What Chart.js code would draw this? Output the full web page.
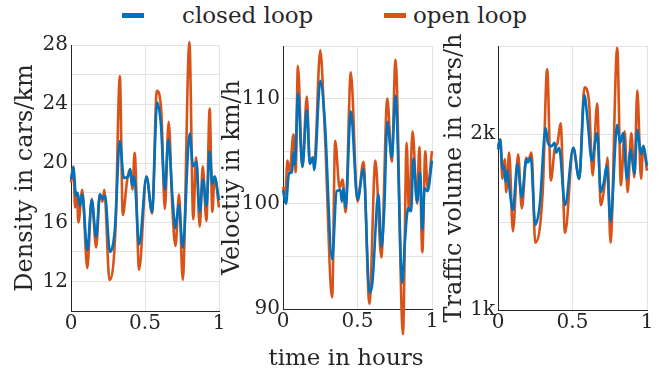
<!DOCTYPE html>
<html>
<head>
<meta charset="utf-8">
<script src="https://cdn.jsdelivr.net/npm/chart.js@4/dist/chart.umd.min.js"></script>
<style>
    body { margin: 0; background: #fff; overflow: hidden; width: 667px; height: 372px; position: relative; font-family: 'DejaVu Serif', serif; color: #262626; }
    .panel { position: absolute; }
    .swatch { position: absolute; height: 5px; width: 22px; top: 13px; }
    .txt { position: absolute; font-size: 23px; line-height: 23px; white-space: nowrap; }
</style>
</head>
<body>
<div class="swatch" style="left:122px; background:#0072BD"></div>
<div class="txt" style="left:182px; top:4px">closed loop</div>
<div class="swatch" style="left:384px; background:#D95319"></div>
<div class="txt" style="left:413px; top:4px">open loop</div>

<div class="panel" style="left:0px; top:30px; width:231px; height:321px"><canvas id="densityChart"></canvas></div>
<div class="panel" style="left:210px; top:31px; width:234px; height:318px"><canvas id="velocityChart"></canvas></div>
<div class="panel" style="left:425px; top:31px; width:234px; height:319px"><canvas id="volumeChart"></canvas></div>

<div class="txt" style="left:246px; top:346px; width:200px; text-align:center">time in hours</div>

<script>
// time axis ticks (hours)
const timeTicks = [0, 0.5, 1];

// Density in cars/km
const densClosedT = [0, 0.016, 0.034, 0.045, 0.06, 0.076, 0.11, 0.14, 0.17, 0.195, 0.213, 0.23, 0.263, 0.297, 0.33, 0.357, 0.386, 0.4, 0.413, 0.427, 0.46, 0.51, 0.548, 0.582, 0.607, 0.634, 0.658, 0.685, 0.706, 0.728, 0.755, 0.802, 0.825, 0.847, 0.87, 0.892, 0.915, 0.937, 0.955, 0.97, 1.0];
const densClosed = [18.9, 19.7, 17.8, 18.0, 17.1, 17.9, 14.1, 17.5, 15.0, 17.9, 17.6, 17.8, 14.0, 15.6, 21.5, 19.0, 19.1, 19.6, 18.5, 19.1, 14.5, 19.1, 16.7, 24.1, 22.7, 18.2, 21.6, 17.8, 15.6, 17.2, 14.3, 22.0, 19.8, 20.1, 16.7, 18.9, 17.1, 20.8, 18.6, 19.1, 17.5];
const densOpenT = [0, 0.016, 0.028, 0.04, 0.05, 0.076, 0.11, 0.14, 0.17, 0.195, 0.213, 0.225, 0.26, 0.3, 0.33, 0.35, 0.38, 0.4, 0.415, 0.43, 0.46, 0.51, 0.548, 0.58, 0.61, 0.634, 0.66, 0.685, 0.706, 0.73, 0.755, 0.8, 0.826, 0.845, 0.87, 0.89, 0.915, 0.937, 0.955, 0.97, 1.0];
const densOpen = [18.7, 19.8, 17.0, 18.0, 16.0, 18.2, 12.9, 17.6, 14.3, 17.9, 17.4, 18.2, 12.1, 15.4, 25.9, 16.5, 18.9, 19.6, 18.2, 20.7, 12.8, 19.1, 16.6, 24.9, 23.5, 16.9, 22.8, 16.9, 14.4, 17.9, 12.1, 28.2, 16.2, 20.4, 15.7, 19.8, 16.1, 23.7, 16.7, 19.1, 17.0];

// Velocity in km/h
const velClosedT = [0, 0.02, 0.04, 0.06, 0.07, 0.08, 0.1, 0.13, 0.16, 0.18, 0.2, 0.21, 0.25, 0.28, 0.33, 0.36, 0.385, 0.395, 0.405, 0.42, 0.455, 0.5, 0.54, 0.58, 0.6, 0.64, 0.66, 0.68, 0.7, 0.73, 0.755, 0.8, 0.82, 0.84, 0.86, 0.875, 0.9, 0.92, 0.935, 0.95, 0.97, 1.0];
const velClosed = [101.3, 100.0, 102.9, 103.0, 104.9, 103.7, 110.5, 103.5, 108.9, 103.8, 104.4, 103.2, 111.7, 108.0, 94.7, 101.2, 101.3, 100.2, 101.5, 99.6, 108.8, 100.4, 103.3, 91.6, 92.5, 100.9, 95.9, 99.6, 107.8, 104.4, 110.3, 92.5, 96.8, 99.6, 99.3, 104.3, 100.2, 103.0, 97.5, 101.5, 101.2, 104.1];
const velOpenT = [0, 0.015, 0.03, 0.045, 0.07, 0.085, 0.1, 0.13, 0.16, 0.18, 0.2, 0.21, 0.25, 0.28, 0.33, 0.35, 0.38, 0.4, 0.42, 0.455, 0.5, 0.54, 0.58, 0.62, 0.66, 0.7, 0.73, 0.755, 0.805, 0.83, 0.845, 0.87, 0.9, 0.915, 0.935, 0.955, 0.97, 1.0];
const velOpen = [101.6, 100.9, 104.1, 103.0, 106.6, 103.0, 113.1, 103.5, 110.2, 103.8, 104.4, 103.9, 114.6, 107.1, 91.1, 106.0, 101.5, 102.3, 99.2, 112.5, 100.2, 104.0, 90.5, 104.1, 94.9, 110.0, 104.0, 113.7, 87.6, 105.8, 99.3, 106.9, 100.0, 105.4, 95.4, 105.0, 101.5, 105.0];

// Traffic volume in cars/h
const volClosedT = [0, 0.015, 0.03, 0.04, 0.05, 0.065, 0.075, 0.1, 0.13, 0.16, 0.19, 0.2, 0.22, 0.25, 0.28, 0.32, 0.335, 0.36, 0.38, 0.39, 0.41, 0.45, 0.505, 0.545, 0.58, 0.6, 0.63, 0.665, 0.69, 0.71, 0.73, 0.755, 0.8, 0.82, 0.84, 0.865, 0.89, 0.915, 0.935, 0.96, 0.975, 1.0];
const volClosed = [1912, 1968, 1801, 1819, 1726, 1791, 1708, 1568, 1829, 1642, 1857, 1838, 1866, 1484, 1596, 2034, 1950, 1931, 1950, 1894, 1922, 1596, 1922, 1745, 2220, 2089, 1847, 2006, 1670, 1726, 1819, 1503, 2052, 1950, 2006, 1745, 1912, 1773, 2024, 1885, 1931, 1819];
const volOpenT = [0, 0.015, 0.03, 0.045, 0.055, 0.075, 0.1, 0.135, 0.16, 0.19, 0.2, 0.225, 0.25, 0.3, 0.33, 0.355, 0.38, 0.4, 0.42, 0.45, 0.505, 0.545, 0.58, 0.61, 0.635, 0.665, 0.69, 0.72, 0.735, 0.755, 0.8, 0.825, 0.85, 0.87, 0.895, 0.915, 0.935, 0.96, 0.975, 1.0];
const volOpen = [1931, 1968, 1745, 1857, 1670, 1894, 1447, 1885, 1577, 1866, 1847, 1894, 1382, 1670, 2369, 1736, 1912, 1950, 2061, 1438, 1922, 1745, 2266, 2192, 1764, 2173, 1596, 1745, 1866, 1382, 2490, 1708, 2015, 1670, 2006, 1754, 2248, 1745, 1931, 1791];

const BLUE = '#0072BD';
const ORANGE = '#D95319';
const AXIS = '#262626';
const GRID = '#e3e3e3';

function toPoints(t, v) {
    return t.map((x, i) => ({ x: x, y: v[i] }));
}

function makePanel(id, cfg) {
    const ctx = document.getElementById(id).getContext('2d');
    return new Chart(ctx, {
        type: 'line',
        data: {
            datasets: [
                // closed loop first so it is drawn on top
                { label: 'closed loop', data: toPoints(cfg.closedT, cfg.closed), borderColor: BLUE, borderWidth: 2.6, pointRadius: 0, cubicInterpolationMode: 'monotone', clip: false },
                { label: 'open loop', data: toPoints(cfg.openT, cfg.open), borderColor: ORANGE, borderWidth: 2.6, pointRadius: 0, cubicInterpolationMode: 'monotone', clip: false }
            ]
        },
        options: {
            responsive: true,
            maintainAspectRatio: false,
            animation: false,
            layout: { autoPadding: false, padding: { top: 10, right: 12, left: 0, bottom: 0 } },
            plugins: { legend: { display: false }, tooltip: { enabled: false } },
            scales: {
                x: {
                    type: 'linear', min: 0, max: 1,
                    afterBuildTicks: (s) => { s.ticks = timeTicks.map(v => ({ value: v })); },
                    afterFit: (s) => { s.height = 40; },
                    grid: { color: GRID, drawTicks: false },
                    border: { color: AXIS, width: 1 },
                    ticks: { color: AXIS, padding: 1, maxRotation: 0, font: { family: 'DejaVu Serif', size: 20 }, callback: (v) => String(v) }
                },
                y: {
                    min: cfg.min, max: cfg.max,
                    ticks: { stepSize: cfg.step, color: AXIS, padding: 3, font: { family: 'DejaVu Serif', size: 20 }, callback: cfg.label },
                    afterFit: (s) => { s.width = cfg.yw; },
                    grid: { color: GRID, drawTicks: false },
                    border: { color: AXIS, width: 1 },
                    title: { display: true, text: cfg.title, color: AXIS, padding: { top: cfg.tpad, bottom: 0 }, font: { family: 'DejaVu Serif', size: 24, lineHeight: 1 } }
                }
            }
        }
    });
}

document.addEventListener('DOMContentLoaded', function() {
    makePanel('densityChart', {
        closedT: densClosedT, closed: densClosed, openT: densOpenT, open: densOpen,
        min: 10, max: 28, step: 2, yw: 71, tpad: 14,
        title: 'Density in cars/km',
        label: (v) => (v % 4 === 0 && v >= 12) ? v : ''
    });
    makePanel('velocityChart', {
        closedT: velClosedT, closed: velClosed, openT: velOpenT, open: velOpen,
        min: 90, max: 115, step: 5, yw: 73, tpad: 11,
        title: 'Veloctiy in km/h',
        label: (v) => (v % 10 === 0) ? v : ''
    });
    makePanel('volumeChart', {
        closedT: volClosedT, closed: volClosed, openT: volOpenT, open: volOpen,
        min: 1000, max: 2500, step: 500, yw: 73, tpad: 18,
        title: 'Traffic volume in cars/h',
        label: (v) => (v % 1000 === 0) ? (v / 1000) + 'k' : ''
    });
});
</script>
</body>
</html>
